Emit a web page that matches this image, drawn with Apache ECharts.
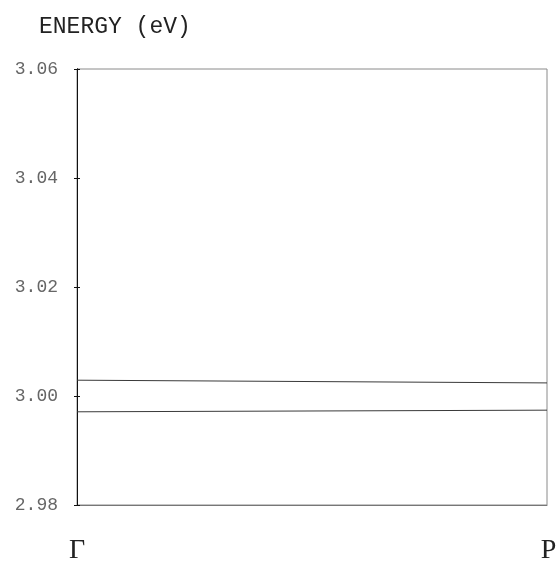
<!DOCTYPE html>
<html>
<head>
<meta charset="utf-8">
<style>
  html, body { margin: 0; padding: 0; background: #fff; }
  #chart { width: 557px; height: 569px; }
</style>
<script src="https://cdn.jsdelivr.net/npm/echarts@6/dist/echarts.min.js"></script>
</head>
<body>
<div id="chart"></div>
<script>
// Wave-vector path end points (fractional position along Γ → P)
const kPoints = [0, 1];
const kLabels = ['Γ', 'P'];

// Band energies (eV) at Γ and at P
const upperBand = [3.0029, 3.0024];
const lowerBand = [2.9971, 2.9974];

// Energy axis range and tick spacing (eV)
const energyMin = 2.98;
const energyMax = 3.06;
const energyStep = 0.02;

const chart = echarts.init(document.getElementById('chart'), null, { renderer: 'canvas' });

const toPairs = (ys) => kPoints.map((k, i) => [k, ys[i]]);

const bandStyle = { color: '#3a3a3a', width: 1 };
const tickAxisCommon = {
  type: 'value',
  min: energyMin,
  max: energyMax,
  interval: energyStep,
  splitLine: { show: false }
};

chart.setOption({
  animation: false,
  backgroundColor: '#fff',
  title: {
    text: 'ENERGY (eV)',
    left: 34,
    top: 10,
    textStyle: {
      fontFamily: 'Liberation Mono',
      fontSize: 23,
      fontWeight: 'normal',
      color: '#222'
    }
  },
  grid: {
    left: 77, right: 10, top: 69, bottom: 64,
    containLabel: false,
    outerBoundsMode: 'none',
    show: true,
    borderColor: '#8a8a8a',
    borderWidth: 1
  },
  xAxis: {
    type: 'value',
    min: kPoints[0],
    max: kPoints[kPoints.length - 1],
    interval: 1,
    splitLine: { show: false },
    axisLine: { lineStyle: { color: '#777', width: 1 } },
    axisTick: { show: false },
    axisLabel: {
      margin: 32,
      formatter: (v) => {
        const i = kPoints.indexOf(v);
        return i === 0 ? '{g|' + kLabels[0] + '}' : '{p|' + kLabels[1] + '}';
      },
      rich: {
        g: { fontFamily: 'Liberation Serif', fontSize: 28, color: '#222' },
        p: { fontFamily: 'Liberation Serif', fontSize: 28, color: '#222', padding: [0, 0, 0, 3] }
      }
    }
  },
  yAxis: [
    Object.assign({}, tickAxisCommon, {
      axisLine: { show: true, lineStyle: { color: '#111', width: 1 } },
      axisTick: { show: true, length: 3, lineStyle: { color: '#111' } },
      axisLabel: {
        margin: 19,
        fontFamily: 'Liberation Mono',
        fontSize: 18,
        color: '#666',
        formatter: (v) => v.toFixed(2),
        showMinLabel: true,
        showMaxLabel: true
      }
    }),
    Object.assign({}, tickAxisCommon, {
      position: 'left',
      axisLine: { show: true, lineStyle: { color: '#111', width: 1 } },
      axisTick: { show: true, inside: true, length: 3, lineStyle: { color: '#111' } },
      axisLabel: { show: false }
    })
  ],
  series: [
    {
      type: 'line',
      data: toPairs(upperBand),
      yAxisIndex: 0,
      symbol: 'none',
      lineStyle: bandStyle
    },
    {
      type: 'line',
      data: toPairs(lowerBand),
      yAxisIndex: 0,
      symbol: 'none',
      lineStyle: bandStyle
    }
  ]
});
</script>
</body>
</html>
